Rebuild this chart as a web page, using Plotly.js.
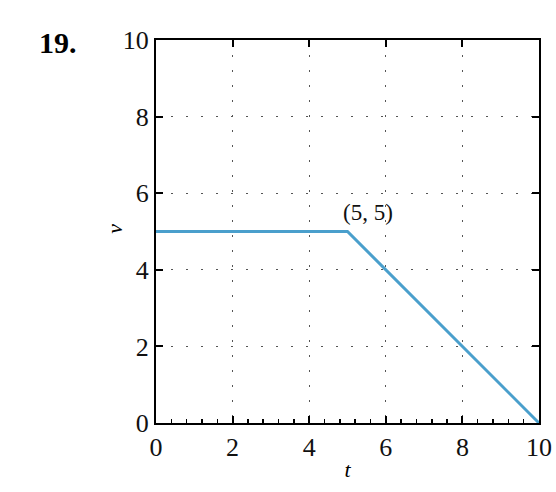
<!DOCTYPE html>
<html>
<head>
<meta charset="utf-8">
<script src="https://cdn.plot.ly/plotly-3.0.1.min.js"></script>
<style>html,body{margin:0;padding:0;background:#fff;}#chart{width:556px;height:492px;}</style>
</head>
<body>
<div id="chart"></div>
<script>
const tValues = [0, 5, 10];
const vValues = [5, 5, 0];
const tickVals = [0, 2, 4, 6, 8, 10];
const tickText = ["0", "2", "4", "6", "8", "10"];
const pointLabel = "(5, 5)";
const problemNumber = "19.";
const xTitle = "t";
const yTitle = "v";

const serif = "Liberation Serif";
const trace = {
  x: tValues, y: vValues, type: "scatter", mode: "lines",
  line: {color: "#4a9fcc", width: 3}, hoverinfo: "skip", cliponaxis: false
};
const tickFont = {family: serif, size: 26, color: "#111"};
const axisCommon = {
  range: [0, 10], tickvals: tickVals, ticktext: tickText,
  ticks: "inside", ticklen: 7, tickwidth: 2, tickcolor: "#000",
  showline: true, linecolor: "#000", linewidth: 2, mirror: true,
  showgrid: true, gridcolor: "#555", gridwidth: 1.2, griddash: "1.5px,13.5px",
  zeroline: false, fixedrange: true,
  tickfont: tickFont
};
const mirrorAxis = {
  range: [0, 10], tickvals: tickVals, showticklabels: false,
  ticks: "inside", ticklen: 7, tickwidth: 2, tickcolor: "#000",
  showline: false, showgrid: false, zeroline: false, fixedrange: true
};
const layout = {
  width: 556, height: 492,
  margin: {l: 156, r: 17, t: 40, b: 69},
  paper_bgcolor: "#fff", plot_bgcolor: "#fff",
  showlegend: false,
  xaxis: Object.assign({}, axisCommon, {
    ticklabelstandoff: 0,
    title: {text: "<i>" + xTitle + "</i>", font: {family: serif, size: 22, color: "#000"}, standoff: 0},
    minor: {dtick: 0.4, ticks: "inside", ticklen: 4, tickwidth: 1.5, tickcolor: "#000", showgrid: false}
  }),
  yaxis: Object.assign({}, axisCommon, {ticklabelstandoff: 0}),
  xaxis2: Object.assign({}, mirrorAxis, {overlaying: "x", side: "top", anchor: "y"}),
  yaxis2: Object.assign({}, mirrorAxis, {overlaying: "y", side: "right", anchor: "x"}),
  annotations: [
    {x: 5, y: 5, xref: "x", yref: "y", text: pointLabel, showarrow: false,
     xshift: 20, yshift: 19, font: {family: serif, size: 23, color: "#111"}},
    {x: 0, y: 0.507, xref: "paper", yref: "paper", text: "<i>" + yTitle + "</i>", showarrow: false,
     textangle: -90, xanchor: "center", yanchor: "middle", xshift: -41,
     font: {family: serif, size: 22, color: "#000"}},
    {x: 0, y: 1, xref: "paper", yref: "paper", text: "<b>" + problemNumber + "</b>", showarrow: false,
     xanchor: "left", yanchor: "middle", xshift: -119, yshift: -2,
     font: {family: serif, size: 30, color: "#000"}}
  ]
};
const mirrorTrace = {x: [], y: [], xaxis: "x2", yaxis: "y2", type: "scatter", hoverinfo: "skip"};
Plotly.newPlot("chart", [trace, mirrorTrace], layout, {displayModeBar: false, staticPlot: true});
</script>
</body>
</html>
